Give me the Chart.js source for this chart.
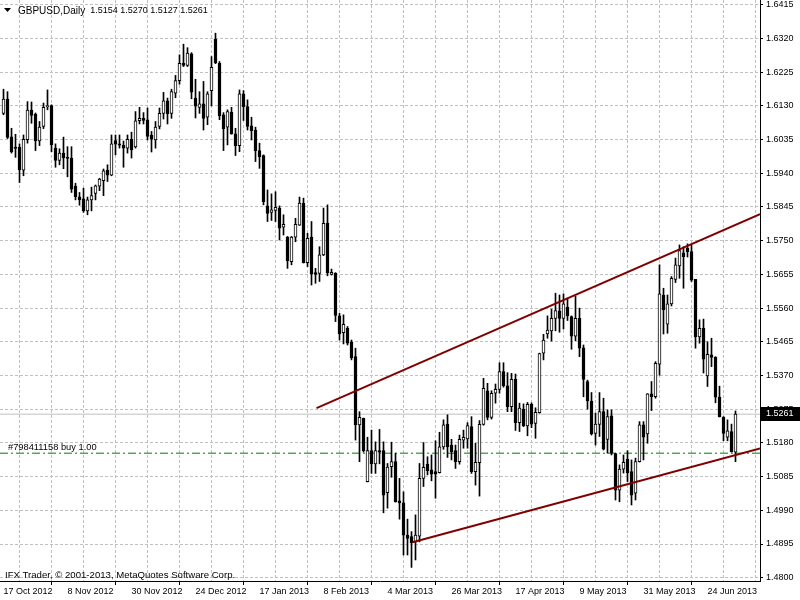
<!DOCTYPE html>
<html><head><meta charset="utf-8">
<script src="https://cdn.jsdelivr.net/npm/chart.js@4.4.0/dist/chart.umd.min.js"></script>
<style>html,body{margin:0;padding:0;background:#fff;}canvas{display:block;}</style>
</head><body>
<canvas id="c" width="800" height="600"></canvas>
<script>
const headerTitle = 'GBPUSD,Daily';
const headerValues = '1.5154 1.5270 1.5127 1.5261';
const footerText = 'IFX Trader, \u00A9 2001-2013, MetaQuotes Software Corp.';
const orderLabel = '#798411158 buy 1.00';
const orderPrice = 1.5151;

const opens = [1.6109,1.6149,1.6043,1.6014,1.6014,1.5949,1.6035,1.6118,1.6107,1.6031,1.6072,1.6128,1.6131,1.6011,1.5976,1.5997,
1.5985,1.5983,1.5904,1.5874,1.5868,1.5834,1.5865,1.5883,1.5904,1.5919,1.5948,1.5935,1.6032,1.6023,1.6019,1.6011,
1.6036,1.6014,1.6088,1.6095,1.6091,1.6048,1.6034,1.6072,1.6109,1.6144,1.6109,1.6166,1.6201,1.6250,1.6244,1.6277,
1.6152,1.6126,1.6136,1.6098,1.6173,1.6318,1.6250,1.6105,1.6070,1.6112,1.6051,1.6018,1.6164,1.6128,1.6074,1.6062,
1.6004,1.5990,1.5848,1.5830,1.5835,1.5842,1.5788,1.5760,1.5691,1.5760,1.5794,1.5856,1.5688,1.5760,1.5660,1.5658,
1.5710,1.5800,1.5655,1.5658,1.5538,1.5491,1.5503,1.5464,1.5423,1.5231,1.5249,1.5071,1.5158,1.5121,1.5158,1.5158,
1.5040,1.5113,1.5127,1.5017,1.5011,1.4920,1.4916,1.4901,1.4917,1.5080,1.5120,1.5104,1.5099,1.5096,1.5169,1.5233,
1.5174,1.5158,1.5127,1.5188,1.5191,1.5226,1.5099,1.5124,1.5232,1.5327,1.5252,1.5320,1.5331,1.5381,1.5341,1.5282,
1.5359,1.5237,1.5275,1.5228,1.5289,1.5235,1.5265,1.5433,1.5487,1.5496,1.5531,1.5552,1.5531,1.5562,1.5536,1.5481,
1.5531,1.5448,1.5353,1.5298,1.5207,1.5232,1.5268,1.5190,1.5256,1.5150,1.5047,1.5106,1.5134,1.5099,1.5038,1.5127,
1.5231,1.5205,1.5318,1.5310,1.5402,1.5597,1.5515,1.5572,1.5641,1.5679,1.5716,1.5729,1.5719,1.5641,1.5479,1.5503,
1.5369,1.5428,1.5422,1.5309,1.5253,1.5196,1.5212,1.5154];

const highs = [1.6177,1.6170,1.6067,1.6050,1.6023,1.6048,1.6142,1.6141,1.6110,1.6086,1.6138,1.6175,1.6133,1.6023,1.6009,1.6042,
1.6015,1.6015,1.5912,1.5886,1.5898,1.5873,1.5901,1.5907,1.5926,1.5952,1.5964,1.6048,1.6048,1.6048,1.6031,1.6048,
1.6056,1.6114,1.6126,1.6111,1.6124,1.6058,1.6086,1.6124,1.6168,1.6152,1.6177,1.6216,1.6274,1.6304,1.6294,1.6280,
1.6205,1.6170,1.6199,1.6170,1.6269,1.6335,1.6255,1.6111,1.6119,1.6126,1.6067,1.6175,1.6173,1.6147,1.6098,1.6070,
1.6025,1.5992,1.5893,1.5882,1.5888,1.5848,1.5823,1.5762,1.5762,1.5813,1.5873,1.5870,1.5771,1.5804,1.5672,1.5733,
1.5842,1.5851,1.5670,1.5660,1.5545,1.5541,1.5508,1.5470,1.5447,1.5268,1.5250,1.5196,1.5216,1.5183,1.5218,1.5183,
1.5122,1.5182,1.5151,1.5080,1.5042,1.4965,1.4930,1.4977,1.5122,1.5181,1.5141,1.5146,1.5186,1.5210,1.5245,1.5259,
1.5190,1.5174,1.5202,1.5216,1.5237,1.5254,1.5179,1.5243,1.5362,1.5348,1.5327,1.5346,1.5406,1.5406,1.5378,1.5376,
1.5374,1.5292,1.5290,1.5294,1.5293,1.5279,1.5433,1.5486,1.5538,1.5557,1.5602,1.5597,1.5600,1.5588,1.5538,1.5594,
1.5560,1.5456,1.5357,1.5322,1.5264,1.5322,1.5306,1.5273,1.5273,1.5151,1.5118,1.5146,1.5158,1.5132,1.5137,1.5240,
1.5240,1.5319,1.5353,1.5409,1.5682,1.5616,1.5597,1.5649,1.5701,1.5738,1.5733,1.5741,1.5738,1.5641,1.5527,1.5529,
1.5465,1.5475,1.5423,1.5340,1.5254,1.5245,1.5233,1.5270];

const lows = [1.6105,1.6038,1.5997,1.5985,1.5914,1.5933,1.6025,1.6081,1.6004,1.6018,1.6066,1.6119,1.6001,1.5957,1.5964,1.5953,
1.5930,1.5886,1.5865,1.5850,1.5830,1.5823,1.5834,1.5865,1.5891,1.5877,1.5917,1.5933,1.5992,1.6011,1.5957,1.5997,
1.5983,1.6011,1.6079,1.6079,1.6034,1.6000,1.6011,1.6065,1.6093,1.6079,1.6095,1.6153,1.6191,1.6241,1.6241,1.6150,
1.6096,1.6109,1.6062,1.6077,1.6130,1.6249,1.6091,1.6004,1.6020,1.6050,1.5990,1.6001,1.6089,1.6062,1.6034,1.5973,
1.5954,1.5851,1.5804,1.5807,1.5804,1.5752,1.5766,1.5672,1.5682,1.5747,1.5793,1.5687,1.5677,1.5625,1.5630,1.5635,
1.5708,1.5651,1.5653,1.5522,1.5470,1.5459,1.5456,1.5414,1.5188,1.5127,1.5154,1.5070,1.5094,1.5094,1.5121,1.4983,
1.4996,1.5083,1.5013,1.4965,1.4864,1.4864,1.4829,1.4850,1.4901,1.5057,1.5090,1.5073,1.5024,1.5095,1.5162,1.5139,
1.5132,1.5108,1.5120,1.5165,1.5165,1.5094,1.5061,1.5030,1.5230,1.5245,1.5247,1.5292,1.5320,1.5337,1.5268,1.5268,
1.5215,1.5212,1.5226,1.5200,1.5223,1.5193,1.5264,1.5414,1.5475,1.5467,1.5496,1.5492,1.5501,1.5525,1.5444,1.5468,
1.5423,1.5310,1.5275,1.5202,1.5174,1.5198,1.5160,1.5151,1.5146,1.5019,1.5014,1.5095,1.5071,1.5005,1.5019,1.5126,
1.5132,1.5179,1.5271,1.5306,1.5371,1.5487,1.5489,1.5566,1.5632,1.5644,1.5616,1.5704,1.5635,1.5447,1.5461,1.5377,
1.5339,1.5395,1.5293,1.5253,1.5186,1.5186,1.5154,1.5127];

const closes = [1.6149,1.6041,1.6001,1.6010,1.5950,1.6036,1.6118,1.6103,1.6031,1.6070,1.6126,1.6131,1.6020,1.5976,1.5997,1.5983,
1.5982,1.5895,1.5874,1.5865,1.5834,1.5865,1.5877,1.5905,1.5924,1.5947,1.5935,1.6023,1.6022,1.6019,1.6011,1.6036,
1.6006,1.6088,1.6095,1.6089,1.6044,1.6036,1.6070,1.6109,1.6144,1.6108,1.6170,1.6201,1.6250,1.6244,1.6279,1.6169,
1.6129,1.6136,1.6095,1.6164,1.6239,1.6252,1.6102,1.6066,1.6114,1.6051,1.6018,1.6164,1.6128,1.6072,1.6060,1.6004,
1.5987,1.5860,1.5827,1.5837,1.5844,1.5785,1.5796,1.5694,1.5760,1.5796,1.5856,1.5688,1.5757,1.5656,1.5655,1.5710,
1.5799,1.5659,1.5661,1.5539,1.5487,1.5514,1.5461,1.5420,1.5231,1.5252,1.5158,1.5158,1.5121,1.5158,1.5154,1.5033,
1.5112,1.5127,1.5014,1.5011,1.4920,1.4911,1.4899,1.4920,1.5080,1.5111,1.5102,1.5092,1.5092,1.5169,1.5231,1.5169,
1.5155,1.5127,1.5190,1.5196,1.5229,1.5099,1.5125,1.5232,1.5334,1.5252,1.5320,1.5331,1.5381,1.5341,1.5282,1.5359,
1.5237,1.5278,1.5228,1.5289,1.5233,1.5266,1.5432,1.5470,1.5498,1.5531,1.5553,1.5531,1.5572,1.5538,1.5481,1.5531,
1.5447,1.5359,1.5298,1.5205,1.5233,1.5268,1.5162,1.5254,1.5151,1.5047,1.5106,1.5125,1.5096,1.5033,1.5127,1.5231,
1.5196,1.5318,1.5310,1.5404,1.5600,1.5555,1.5572,1.5644,1.5682,1.5722,1.5705,1.5719,1.5639,1.5479,1.5503,1.5416,
1.5430,1.5421,1.5309,1.5254,1.5207,1.5214,1.5155,1.5261];

const dateTickBars = [0,16,32,48,64,80,96,112,128,144,160,176];
const dateTickLabels = ['17 Oct 2012','8 Nov 2012','30 Nov 2012','24 Dec 2012','17 Jan 2013','8 Feb 2013',
  '4 Mar 2013','26 Mar 2013','17 Apr 2013','9 May 2013','31 May 2013','24 Jun 2013'];
const gridBars = [0,8,16,24,32,40,48,56,64,72,80,88,96,104,112,120,128,136,144,152,160,168,176,184];
const priceTicks = [1.4800,1.4895,1.4990,1.5085,1.5180,1.5275,1.5370,1.5465,1.5560,1.5655,1.5750,1.5845,
  1.5940,1.6035,1.6130,1.6225,1.6320,1.6415];
const upperTrend = [{bar: 78.25, price: 1.5278}, {bar: 189.125, price: 1.5825}];
const lowerTrend = [{bar: 102.25, price: 1.4900}, {bar: 189.125, price: 1.5164}];

const X_MIN = -0.875, X_MAX = 189.125;
const Y_MIN = 1.47907, Y_MAX = 1.64285;
const FONT = "'Liberation Sans', Arial, sans-serif";
const lastClose = closes[closes.length - 1];

const bodyData = opens.map((o, i) => ({x: i, y: [o, closes[i]]}));
const wickData = lows.map((l, i) => ({x: i, y: [l, highs[i]]}));
const labelMap = {};
dateTickBars.forEach((b, k) => labelMap[b] = dateTickLabels[k]);

const overlay = {
  id: 'mt4overlay',
  afterDraw(chart) {
    const c = chart.ctx, y = chart.scales.y, area = chart.chartArea;
    c.save();
    c.fillStyle = '#000';
    c.textBaseline = 'middle';
    // header triangle
    c.beginPath(); c.moveTo(4, 8); c.lineTo(11, 8); c.lineTo(7.5, 12); c.closePath(); c.fill();
    c.font = '10px ' + FONT;
    c.fillText(headerTitle, 18, 11);
    const tw = c.measureText(headerTitle).width;
    c.font = '9px ' + FONT;
    c.fillText(headerValues, 18 + tw + 5, 11);
    // order label
    const oy = y.getPixelForValue(orderPrice);
    c.font = '9.3px ' + FONT;
    c.fillText(orderLabel, 8, oy - 6);
    // footer
    c.font = '9.6px ' + FONT;
    c.fillText(footerText, 5, area.bottom - 6);
    // price box
    const py = Math.round(y.getPixelForValue(lastClose));
    c.fillStyle = '#000';
    c.fillRect(area.right + 1, py - 7, 39, 14);
    c.fillStyle = '#fff';
    c.font = '9px ' + FONT;
    c.fillText(lastClose.toFixed(4), area.right + 6, py);
    c.restore();
  }
};

new Chart(document.getElementById('c'), {
  type: 'bar',
  data: {
    datasets: [
      {type: 'line', data: upperTrend.map(p => ({x: p.bar, y: p.price})), borderColor: '#800000', borderWidth: 2,
       pointRadius: 0, fill: false, tension: 0, order: 0},
      {type: 'line', data: lowerTrend.map(p => ({x: p.bar, y: p.price})), borderColor: '#800000', borderWidth: 2,
       pointRadius: 0, fill: false, tension: 0, order: 0},
      {type: 'bar', data: bodyData, barThickness: 3, borderWidth: 1, borderColor: '#000', borderSkipped: false,
       minBarLength: 1, grouped: false,
       backgroundColor: ctx => closes[ctx.dataIndex] >= opens[ctx.dataIndex] ? '#fff' : '#000', order: 1},
      {type: 'bar', data: wickData, barThickness: 1, borderWidth: 0, backgroundColor: '#000', grouped: false, order: 2},
      {type: 'line', data: [{x: X_MIN, y: orderPrice}, {x: X_MAX, y: orderPrice}], borderColor: '#008000', borderWidth: 1,
       borderDash: [8, 3, 2, 3], pointRadius: 0, fill: false, order: 3},
      {type: 'line', data: [{x: X_MIN, y: lastClose}, {x: X_MAX, y: lastClose}], borderColor: '#c0c0c0', borderWidth: 1,
       pointRadius: 0, fill: false, order: 4}
    ]
  },
  options: {
    responsive: false, animation: false, devicePixelRatio: 1,
    layout: {padding: 0},
    plugins: {legend: {display: false}, tooltip: {enabled: false}},
    scales: {
      x: {
        type: 'linear', min: X_MIN, max: X_MAX, offset: false,
        afterBuildTicks: s => { s.ticks = gridBars.map(v => ({value: v})); },
        afterFit: s => { s.height = 19; s.paddingLeft = 0; s.paddingRight = 0; },
        ticks: {autoSkip: false, maxRotation: 0, minRotation: 0, align: 'start', padding: 1,
          color: '#000', font: {family: FONT, size: 9},
          callback: v => labelMap[v] !== undefined ? labelMap[v] : ''},
        grid: {color: '#c0c0c0', lineWidth: 1, drawTicks: true, tickLength: 4,
          tickColor: ctx => (ctx.tick && labelMap[ctx.tick.value] !== undefined) ? '#000' : 'rgba(0,0,0,0)'},
        border: {display: true, color: '#000', width: 1, dash: [3, 2]}
      },
      y: {
        position: 'right', min: Y_MIN, max: Y_MAX,
        afterBuildTicks: s => { s.ticks = priceTicks.map(v => ({value: v})); },
        afterFit: s => { s.width = 40; s.paddingTop = 0; s.paddingBottom = 0; },
        ticks: {padding: 3, color: '#000', font: {family: FONT, size: 9}, callback: v => Number(v).toFixed(4)},
        grid: {color: '#c0c0c0', lineWidth: 1, drawTicks: true, tickLength: 3, tickColor: '#000'},
        border: {display: true, color: '#000', width: 1, dash: [3, 2]}
      }
    }
  },
  plugins: [overlay]
});
</script>
</body></html>
